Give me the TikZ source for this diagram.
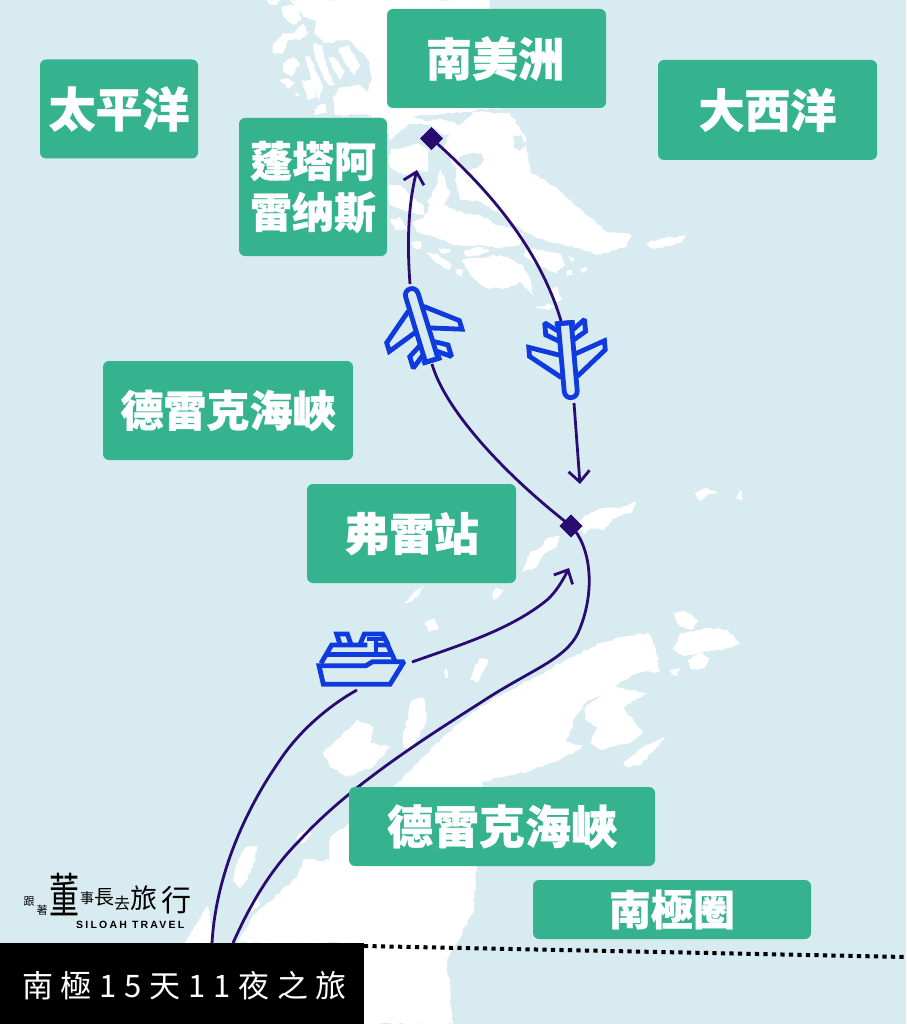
\documentclass[tikz,border=0pt]{standalone}
\usepackage{fontspec}
\usetikzlibrary{arrows.meta,shapes.geometric,decorations.pathmorphing}
\newfontfamily\cjk{Noto Sans CJK TC}[BoldFont={* Black},BoldFeatures={FakeBold=0.8}]
\newfontfamily\cjklabel{Noto Sans CJK TC}
\newfontfamily\latinlogo{Liberation Sans}
\definecolor{sea}{HTML}{D8EBF0}
\definecolor{teal}{HTML}{34B38E}
\definecolor{route}{HTML}{2A0C70}
\definecolor{icon}{HTML}{0F3BDE}
\tikzset{
 land/.style={fill=white,draw=none,decorate,decoration={random steps,segment length=4pt,amplitude=1.3pt}},
 fine/.style={fill=white,draw=none,decorate,decoration={random steps,segment length=2.5pt,amplitude=.9pt}},
 lake/.style={fill=sea,draw=none,decorate,decoration={random steps,segment length=3pt,amplitude=1pt}},
 place/.style={fill=teal,rounded corners=6pt,text=white,align=center,inner sep=0pt},
 routeline/.style={draw=route,line width=2.8pt},
 arrowline/.style={routeline,-{Straight Barb[length=11pt,width=21pt,line width=2.8pt]}},
 stop/.style={diamond,fill=route,minimum width=23pt,minimum height=23pt,inner sep=0pt},
 iconline/.style={draw=icon,line width=4.8pt,line join=miter,miter limit=2},
 zoomA/.style={shift={(380,105)},x=.3333pt,y=-.3333pt},
 zoomB/.style={shift={(260,0)},x=.3333pt,y=-.3333pt},
 zoomS/.style={shift={(310,625)},x=.3333pt,y=-.3333pt},
}
\newcommand{\lbl}[1]{\raisebox{-3.5pt}{#1}}
\newcommand{\fsz}[1]{\fontsize{#1}{#1}\selectfont}
\newcommand{\planeicon}{%
 \draw[iconline] (6.5,-5)--(38,-16)--(38,-7)--(8,17);
 \draw[iconline] (-6.5,-5)--(-38,-16)--(-38,-7)--(-8,17);
 \draw[iconline] (6.5,-29)--(20,-39)--(20,-27)--(6.5,-19);
 \draw[iconline] (-6.5,-29)--(-20,-39)--(-20,-27)--(-6.5,-19);
 \draw[iconline,fill=sea] (-6.5,-37) -- (-6.5,31) .. controls (-6.5,40) and (6.5,40) .. (6.5,31) -- (6.5,-37) -- cycle;
 \draw[iconline] (-10,-37)--(10,-37);
}
\begin{document}
\begin{tikzpicture}[x=1pt,y=-1pt]
\useasboundingbox (0,0) rectangle (906,1024);
\fill[sea] (0,0) rectangle (906,1024);
% ---------- South America, upper land and fjords ----------
\fill[land] (370,0)--(490,0)--(490,10)--(500,108)--(400,118)--(372,118)--(370,60)--cycle;
\begin{scope}[zoomB]
\fill[land] (90,0)--(380,0)--(380,345)--(225,345)--(220,290)--(235,265)--(300,255)--(322,275)--(342,220)--(315,165)--(265,120)--(195,130)--(160,100)--(170,65)--(130,50)--cycle;
\fill[fine] (135,170)--(150,170)--(190,260)--(175,300)--(160,260)--cycle;
\fill[fine] (160,130)--(185,135)--(205,215)--(225,255)--(205,255)--(180,210)--(165,170)--cycle;
\fill[fine] (205,170)--(225,175)--(255,215)--(240,240)--(225,215)--cycle;
\fill[fine] (235,145)--(265,135)--(300,195)--(280,225)--(250,180)--cycle;
\fill[fine] (65,20)--(110,15)--(125,55)--(100,75)--(70,50)--cycle;
\fill[fine] (40,160)--(40,130)--(70,100)--(100,100)--(130,70)--(145,100)--(120,120)--(85,120)--(70,160)--cycle;
\fill[fine] (20,0)--(60,0)--(45,15)--(30,15)--cycle;
\fill[fine] (70,190)--(100,170)--(120,190)--(95,230)--(70,215)--cycle;
\fill[fine] (60,240)--(85,235)--(105,250)--(85,265)--cycle;
\fill[fine] (125,240)--(160,240)--(170,290)--(145,300)--cycle;
\fill[fine] (105,275)--(120,285)--(110,290)--cycle;
\fill[fine] (170,320)--(195,310)--(200,340)--(160,345)--cycle;
\end{scope}
% ---------- Tierra del Fuego ----------
\begin{scope}[zoomA]
\fill[land] (190,130)--(200,100)--(230,70)--(280,20)--(390,25)--(420,70)--(440,100)--(440,140)--(450,200)--(500,230)--(600,310)--(680,380)--(755,390)--(740,425)--(710,435)--(650,450)--(600,430)--(530,415)--(470,400)--(430,380)--(380,340)--(300,290)--(240,285)--(225,225)--(230,190)--(210,160)--cycle;
\fill[lake] (235,160)--(265,145)--(305,145)--(312,165)--(290,190)--(250,200)--cycle;
\fill[lake] (400,95)--(425,90)--(437,120)--(420,138)--(403,130)--cycle;
\fill[fine] (15,25)--(90,30)--(140,50)--(180,40)--(240,60)--(215,90)--(190,90)--(150,60)--(90,55)--(60,80)--(30,105)--(20,60)--cycle;
\fill[fine] (25,170)--(35,130)--(60,130)--(110,115)--(145,130)--(145,200)--(110,200)--(70,210)--(30,190)--cycle;
\fill[fine] (25,240)--(60,240)--(100,280)--(130,300)--(130,330)--(80,320)--(30,300)--cycle;
\fill[fine] (30,345)--(60,335)--(85,375)--(45,375)--cycle;
\fill[fine] (95,410)--(125,410)--(125,430)--(100,430)--cycle;
\fill[land] (140,290)--(170,240)--(180,190)--(210,270)--(190,300)--(230,320)--(300,330)--(350,360)--(400,370)--(430,390)--(420,420)--(360,430)--(300,420)--(220,420)--(170,400)--(110,380)--(100,350)--(130,340)--(150,300)--cycle;
\fill[fine] (440,430)--(540,445)--(555,480)--(530,505)--(470,480)--(430,450)--cycle;
\fill[fine] (250,440)--(290,425)--(330,435)--(300,450)--(260,455)--cycle;
\fill[fine] (175,430)--(215,435)--(200,445)--(180,445)--cycle;
\fill[fine] (140,445)--(170,445)--(215,480)--(205,495)--(165,470)--cycle;
\fill[land] (245,465)--(360,450)--(430,480)--(450,520)--(460,572)--(420,530)--(380,550)--(320,550)--(270,510)--cycle;
\fill[fine] (230,490)--(250,495)--(245,515)--(232,510)--cycle;
\fill[fine] (565,450)--(585,465)--(575,472)--cycle;
\fill[fine] (558,498)--(576,495)--(578,510)--(560,512)--cycle;
\fill[fine] (598,490)--(628,485)--(610,505)--cycle;
\fill[fine] (465,608)--(510,598)--(530,602)--(505,615)--cycle;
\fill[fine] (500,550)--(530,545)--(545,585)--(525,590)--cycle;
\end{scope}
\fill[fine] (646,243)--(664,238)--(686,236)--(682,242)--(660,248)--(650,248)--cycle;
% ---------- Shetland and small islands ----------
\fill[fine] (576,522)--(600,508)--(620,508)--(636,502)--(632,512)--(614,518)--(604,530)--(592,528)--(584,534)--cycle;
\fill[fine] (522,572)--(530,552)--(540,548)--(548,538)--(560,536)--(556,548)--(544,554)--(536,568)--cycle;
\fill[fine] (405,603)--(414,592)--(424,586)--(418,596)--(410,602)--cycle;
\fill[fine] (492,595)--(496,588)--(504,590)--(500,595)--(494,600)--cycle;
\fill[fine] (425,622)--(434,618)--(439,628)--(430,632)--cycle;
\fill[fine] (474,668)--(480,658)--(488,660)--(484,670)--(478,682)--(470,680)--cycle;
\fill[fine] (444,672)--(447,668)--(448,678)--(445,678)--cycle;
\fill[fine] (695,492)--(706,488)--(718,492)--(706,496)--(700,501)--cycle;
\fill[fine] (736,498)--(741,490)--(743,500)--cycle;
% ---------- Antarctic Peninsula ----------
\fill[land] (238,943)--(253,915)--(267,903)--(280,893)--(297,877)--(303,860)--(330,860)--(330,838)--(347,825)--(397,783)--(445,735)--(480,707)--(522,684)--(566,660)--(600,643)--(620,637)--(648,633)--(656,650)--(660,672)--(640,672)--(618,684)--(600,700)--(592,720)--(586,745)--(560,760)--(532,770)--(482,782)--(477,830)--(477,868)--(473,913)--(447,960)--(453,1024)--(350,1024)--(350,943)--cycle;
\fill[lake] (566,742)--(576,716)--(588,700)--(604,694)--(598,720)--(590,748)--cycle;
\fill[land] (323,753)--(357,720)--(373,727)--(370,743)--(390,747)--(373,767)--(347,777)--(330,767)--cycle;
\fill[land] (403,735)--(412,700)--(424,698)--(427,720)--(414,748)--(404,748)--cycle;
\fill[fine] (585,707)--(613,687)--(647,693)--(623,707)--(643,733)--(630,743)--(600,750)--(590,743)--(597,727)--(585,720)--cycle;
\fill[fine] (623,763)--(643,747)--(665,737)--(657,747)--(640,765)--(627,767)--cycle;
\fill[fine] (673,613)--(685,611)--(698,620)--(692,630)--(680,626)--cycle;
\fill[fine] (673,650)--(680,634)--(708,628)--(728,630)--(740,644)--(722,650)--(700,652)--(686,656)--cycle;
\fill[fine] (688,660)--(700,652)--(710,658)--(704,668)--(692,670)--cycle;
\fill[fine] (668,670)--(680,668)--(676,676)--cycle;
% ---------- West coast islets ----------
\fill[fine] (233,880)--(238,860)--(245,848)--(257,846)--(254,862)--(248,878)--(240,888)--cycle;
\fill[fine] (183,945)--(196,925)--(208,905)--(212,930)--(210,945)--cycle;
\fill[fine] (296,838)--(305,830)--(312,834)--(302,844)--cycle;
\fill[fine] (248,905)--(256,896)--(260,904)--(252,912)--cycle;
% ---------- Stops and icons ----------
\node[stop] (ushuaia) at (431.5,138.5) {};
\node[stop] (frei) at (571,526) {};
\coordinate (planeAnose) at (410,284);
\coordinate (planeAtail) at (432,364);
\coordinate (planeBtail) at (561,321);
\coordinate (planeBnose) at (574,403);
\coordinate (arrowA) at (417,170);
\coordinate (arrowB) at (580,484);
\coordinate (arrowC) at (569,568);
\coordinate (shipbow) at (412,662);
\coordinate (shipstern) at (357,690);
\coordinate (southA) at (212,943);
\coordinate (southB) at (233,943);
\draw[routeline] (planeAtail) .. controls (445,410) and (505,475) .. (frei.center);
\draw[arrowline] (planeAnose) .. controls (407,245) and (408,205) .. (arrowA);
\draw[routeline] (ushuaia.center) .. controls (490,190) and (540,250) .. (planeBtail);
\draw[arrowline] (planeBnose) -- (arrowB);
\draw[routeline] (frei.center) .. controls (590,545) and (597,590) .. (578,633) .. controls (565,660) and (530,670) .. (480,703) .. controls (430,735) and (350,785) .. (300,840) .. controls (270,870) and (250,905) .. (southB);
\draw[routeline] (southA) .. controls (215,890) and (235,825) .. (280,760) .. controls (300,730) and (330,705) .. (shipstern);
\draw[arrowline] (shipbow) .. controls (460,645) and (510,630) .. (547,600) .. controls (556,592) and (563,580) .. (arrowC);
\node[stop] at (ushuaia) {};
\node[stop] at (frei) {};
\begin{scope}[shift={(421,325)},rotate=197]\planeicon\end{scope}
\begin{scope}[shift={(568,360)},rotate=5]\planeicon\end{scope}
% ship
\begin{scope}[zoomS]
\draw[iconline] (27,122)--(168,122)--(188,110)--(282,110)--(240,178)--(40,178)--cycle;
\draw[iconline] (33,115)--(65,60)--(172,60);
\draw[iconline] (192,60)--(233,60)--(255,108);
\draw[iconline] (50,88)--(245,88);
\draw[iconline] (198,40)--(198,88);
\draw[iconline] (170,42)--(222,42);
\draw[iconline] (150,58)--(163,27)--(218,27)--(235,60);
\draw[iconline] (90,58)--(80,27)--(112,27)--(123,58);
\end{scope}
% ---------- Labels ----------
\node[place,minimum width=219pt,minimum height=99pt,font=\cjk\bfseries\fsz{46}] (samerica) at (496.5,58.5) {\lbl{\hspace{-3pt}南美洲}};
\node[place,minimum width=158pt,minimum height=99pt,font=\cjk\bfseries\fsz{47}] (pacific) at (119,109) {\lbl{太平洋}};
\node[place,minimum width=219pt,minimum height=100pt,font=\cjk\bfseries\fsz{46}] (atlantic) at (767.5,110) {\lbl{大西洋}};
\node[place,minimum width=148pt,minimum height=138pt,font=\cjk\bfseries\fsz{42}] (punta) at (313,187) {\lbl{蓬塔阿}\\[9pt]\lbl{雷纳斯}};
\node[place,minimum width=250pt,minimum height=99pt,font=\cjk\bfseries\fsz{43}] (drakeA) at (228,410.5) {\lbl{德雷克海峽}};
\node[place,minimum width=209pt,minimum height=99pt,font=\cjk\bfseries\fsz{45}] (freilabel) at (411.5,533.5) {\lbl{弗雷站}};
\node[place,minimum width=306pt,minimum height=79pt,font=\cjk\bfseries\fsz{46}] (drakeB) at (502,826.5) {\lbl{德雷克海峽}};
\node[place,minimum width=278pt,minimum height=59pt,font=\cjk\bfseries\fsz{42}] (circle) at (672,909.5) {\lbl{南極圈}};
% ---------- Antarctic circle and title ----------
\coordinate (circleE) at (906,957);
\coordinate (circleW) at (364,946);
\node[fill=black,minimum width=364pt,minimum height=81pt,inner sep=0pt] (title) at (182,983.5) {};
\draw[black,line width=4pt,dash pattern=on 4.2pt off 4.3pt] (circleW) -- (circleE);
\node[text=white,anchor=west,inner sep=0pt,font=\cjklabel\fsz{31}\addfontfeature{LetterSpace=25}] (titletext) at (22,986) {南極15天11夜之旅};
% ---------- Logo ----------
\node[inner sep=0pt,font=\cjklabel\fsz{11}] (logoA) at (29,902) {跟};
\node[inner sep=0pt,font=\cjklabel\fsz{11}] (logoB) at (42,910) {著};
\node[inner sep=0pt,yscale=1.6,transform shape,font=\cjk\fsz{30}] (logoC) at (64,894) {董};
\node[inner sep=0pt,font=\cjk\fsz{14}] (logoD) at (87,898) {事};
\node[inner sep=0pt,font=\cjk\fsz{20}] (logoE) at (104,897) {長};
\node[inner sep=0pt,font=\cjk\fsz{16}] (logoF) at (122,903) {去};
\node[inner sep=0pt,font=\cjk\fsz{27}] (logoG) at (144,898) {旅};
\node[inner sep=0pt,font=\cjk\fsz{30}] (logoH) at (176,900) {行};
\node[inner sep=0pt,anchor=west,font=\latinlogo\bfseries\fsz{10.5}\addfontfeature{LetterSpace=21}] (logoI) at (76,925) {SILOAH TRAVEL};
\end{tikzpicture}
\end{document}
